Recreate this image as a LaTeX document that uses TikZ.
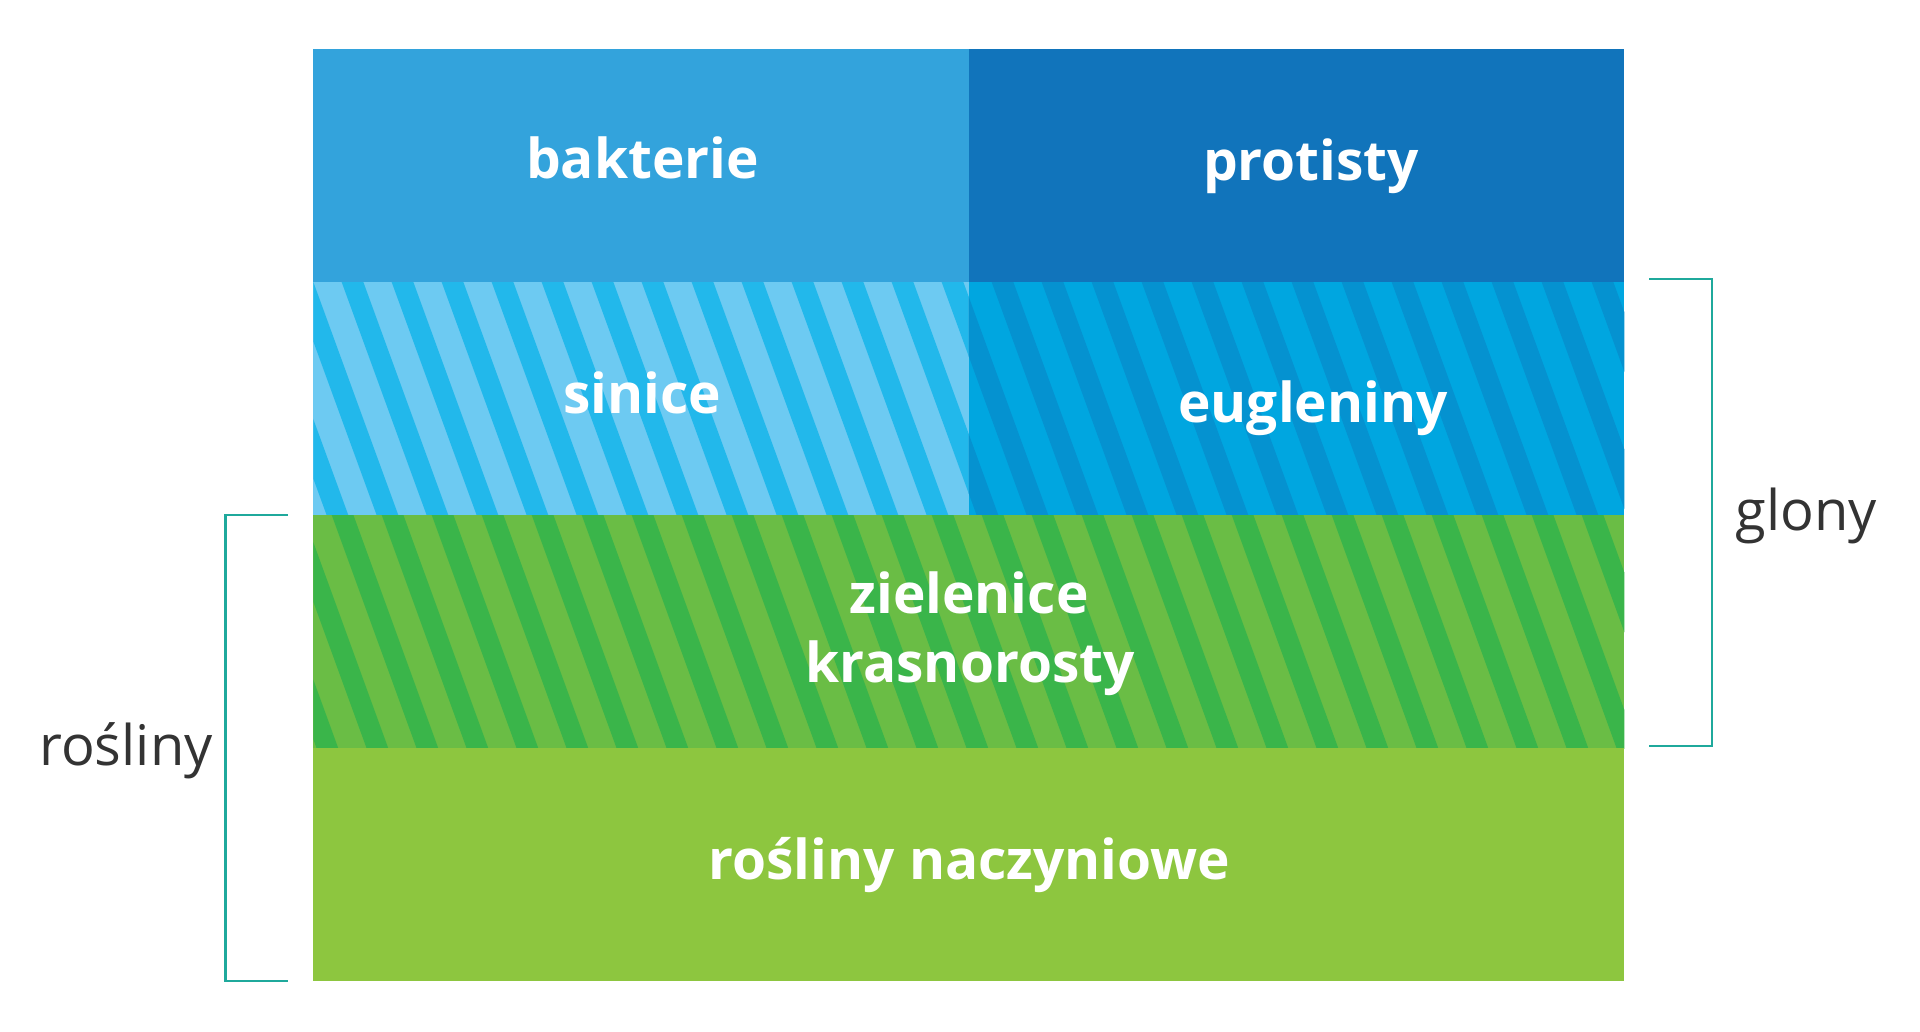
\documentclass[tikz,border=0pt]{standalone}
\usepackage{fontspec}
\setmainfont{Open Sans}
\definecolor{cBak}{HTML}{33A3DC}
\definecolor{cPro}{HTML}{1174BB}
\definecolor{cSinL}{HTML}{6DCAF2}
\definecolor{cSinD}{HTML}{22B8EB}
\definecolor{cEugL}{HTML}{00A6E0}
\definecolor{cEugD}{HTML}{0592D0}
\definecolor{cGrL}{HTML}{6ABD45}
\definecolor{cGrD}{HTML}{3AB54A}
\definecolor{cNac}{HTML}{8DC63F}
\definecolor{cBr}{HTML}{1FA99C}
\definecolor{cTxt}{HTML}{333333}
\tikzset{
  lbl/.style={anchor=base, text=white, font=\fontsize{55}{62}\selectfont\bfseries, inner sep=0pt},
  side/.style={anchor=base, text=cTxt, font=\fontsize{56}{64}\selectfont, inner sep=0pt},
  brk/.style={draw=cBr, line width=2.2pt}
}
% stripes: #1 x-left, #2 y-top, #3 x-right, #4 y-bottom, #5 light, #6 dark, #7 phase
\newcommand{\stripecell}[7]{%
  \fill[#5] (#1,#2) rectangle (#3,#4);
  \begin{scope}
    \clip (#1,#2) rectangle (#3,#4);
    \foreach \k in {-4,...,30}{
      \pgfmathsetmacro{\xa}{#7+50*\k}
      \fill[#6] (\xa-20,#2-55) -- (\xa+21.7-20,#2-55) -- (\xa+21.7+105,#4+55) -- (\xa+105,#4+55) -- cycle;
    }
  \end{scope}
}
\begin{document}
\begin{tikzpicture}[x=1pt,y=-1pt]
\useasboundingbox (0,0) rectangle (1920,1031);
% top row
\fill[cBak] (313.3,49.3) rectangle (968.7,282.6);
\fill[cPro] (968.7,49.3) rectangle (1624.3,282.6);
% striped rows
\stripecell{313.3}{282.3}{968.7}{515.2}{cSinL}{cSinD}{341.7}
\stripecell{968.7}{282.3}{1624.3}{515.2}{cEugL}{cEugD}{341.7}
\stripecell{313.3}{515}{1624.3}{748.5}{cGrL}{cGrD}{331.7}
% bottom row
\fill[cNac] (313.3,748.3) rectangle (1624.3,981);
% labels
\node[lbl] (bak) at (642.5,178) {bakterie};
\node[lbl] (pro) at (1311,180) {protisty};
\node[lbl] (sin) at (642.5,413) {sinice};
\node[lbl] (eug) at (1313,422) {eugleniny};
\node[lbl] (ziel) at (969,613) {zielenice};
\node[lbl] (kras) at (970,682) {krasnorosty};
\node[lbl] (nac) at (969.5,879) {rośliny naczyniowe};
\node[side] (glony) at (1806,530) {glony};
\node[side] (rosl) at (126,765) {rośliny};
% brackets
\coordinate (g1) at (1649,279.3);
\coordinate (g2) at (1712,279.3);
\coordinate (g3) at (1712,746);
\coordinate (g4) at (1649,746);
\draw[brk] (g1) -- (g2) -- (g3) -- (g4);
\coordinate (r1) at (288,515.3);
\coordinate (r2) at (225.5,515.3);
\coordinate (r3) at (225.5,980.7);
\coordinate (r4) at (288,980.7);
\draw[brk] (r1) -- (r2) -- (r3) -- (r4);
\end{tikzpicture}
\end{document}
